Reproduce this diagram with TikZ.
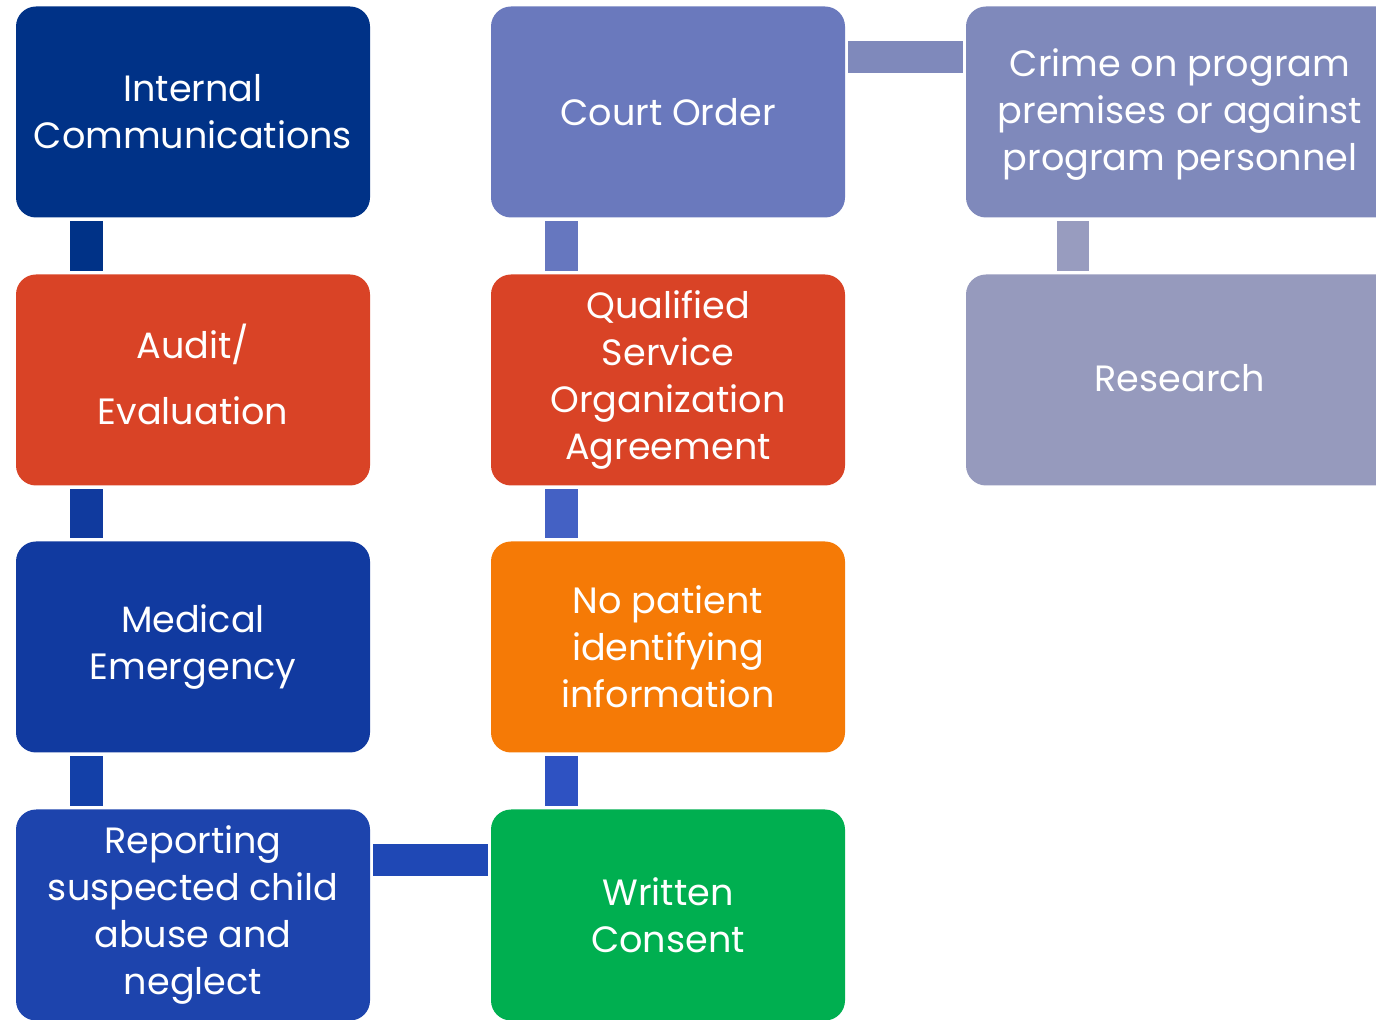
\documentclass[tikz,border=0pt]{standalone}
\usepackage{fontspec}
\setmainfont{Poppins}
\usetikzlibrary{calc}
\definecolor{cNavy}{RGB}{0,50,135}
\definecolor{cRed}{RGB}{217,67,38}
\definecolor{cMed}{RGB}{17,58,160}
\definecolor{cRep}{RGB}{29,68,173}
\definecolor{cCourt}{RGB}{106,121,189}
\definecolor{cOrange}{RGB}{245,122,6}
\definecolor{cGreen}{RGB}{0,175,80}
\definecolor{cCrime}{RGB}{127,137,187}
\definecolor{cRes}{RGB}{150,154,189}
\definecolor{kA}{RGB}{0,50,135}
\definecolor{kB}{RGB}{16,58,158}
\definecolor{kC}{RGB}{19,64,168}
\definecolor{kD}{RGB}{31,72,181}
\definecolor{kE}{RGB}{102,119,191}
\definecolor{kF}{RGB}{68,97,196}
\definecolor{kG}{RGB}{46,82,194}
\definecolor{kH}{RGB}{127,137,187}
\definecolor{kI}{RGB}{152,156,191}
\tikzset{
  txt/.style={text=white, align=center, font=\fontsize{18.3}{23.5}\selectfont, inner sep=0pt},
  box/.style={txt, rectangle, rounded corners=10pt, minimum width=177pt, minimum height=105.5pt},
  widebox/.style={box, minimum width=215pt},
}
\begin{document}
\begin{tikzpicture}[x=0.5pt,y=-0.5pt]
\useasboundingbox (0,0) rectangle (1376,1020);
\clip (0,0) rectangle (1376,1020);
% column 1
\node[box, fill=cNavy] (ic) at (193,112) {Internal\\Communications};
\node[box, fill=cRed] (au) at (193,380) {};
\node[txt] (aut) at (193,374) {Audit/\\[9.5pt]Evaluation};
\node[box, fill=cMed] (me) at (193,647) {Medical\\Emergency};
\node[box, fill=cRep] (rp) at (193,915) {Reporting\\suspected child\\abuse and\\neglect};
% column 2
\node[box, fill=cCourt] (co) at (668,112) {Court Order};
\node[box, fill=cRed] (qs) at (668,380) {Qualified\\Service\\Organization\\Agreement};
\node[box, fill=cOrange] (np) at (668,647) {No patient\\identifying\\information};
\node[box, fill=cGreen] (wc) at (668,915) {Written\\Consent};
% column 3
\node[widebox, fill=cCrime] (cr) at (1181,112) {};
\node[txt] (crt) at (1180,115) {Crime on program\\premises or against\\program personnel};
\node[widebox, fill=cRes] (rs) at (1181,380) {};
\node[txt] (rst) at (1180,378) {Research};
% vertical connectors column 1
\fill[kA] ($(ic.south west)+(54,3)$) rectangle ($(au.north west)+(87,-3)$);
\fill[kB] ($(au.south west)+(54,3)$) rectangle ($(me.north west)+(87,-3)$);
\fill[kC] ($(me.south west)+(54,3)$) rectangle ($(rp.north west)+(87,-3)$);
% vertical connectors column 2
\fill[kE] ($(co.south west)+(54,3)$) rectangle ($(qs.north west)+(87,-3)$);
\fill[kF] ($(qs.south west)+(54,3)$) rectangle ($(np.north west)+(87,-3)$);
\fill[kG] ($(np.south west)+(54,3)$) rectangle ($(wc.north west)+(87,-3)$);
% column 3
\fill[kI] ($(cr.south west)+(91,3)$) rectangle ($(rs.north west)+(123,-3)$);
% horizontal connectors
\fill[kH] ($(co.north east)+(3,35)$) rectangle ($(cr.north west)+(-3,67)$);
\fill[kD] ($(rp.north east)+(3,35)$) rectangle ($(wc.north west)+(-3,67)$);
\end{tikzpicture}
\end{document}
